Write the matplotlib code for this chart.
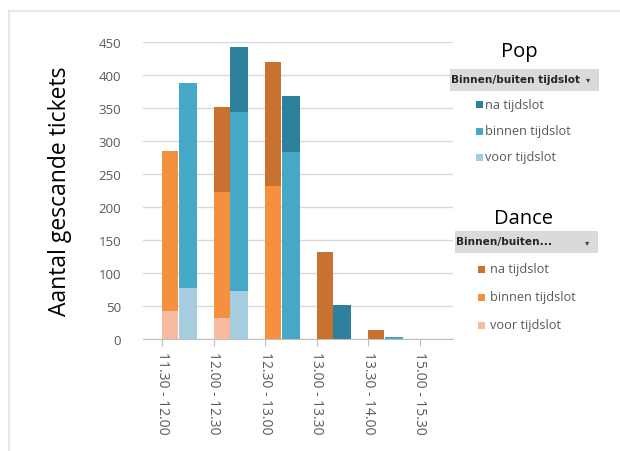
import matplotlib.pyplot as plt
from matplotlib.patches import Rectangle
from matplotlib.lines import Line2D
import numpy as np

plt.rcParams['font.family'] = ['Open Sans', 'DejaVu Sans']

# data
slots = ['11.30 - 12.00', '12.00 - 12.30', '12.30 - 13.00', '13.00 - 13.30', '13.30 - 14.00', '15.00 - 15.30']
dance_voor = [43, 32, 0, 0, 0, 0]
dance_binnen = [242, 191, 232, 0, 0, 0]
dance_na = [0, 129, 189, 132, 14, 0]
pop_voor = [78, 72, 0, 0, 0, 0]
pop_binnen = [310, 272, 283, 0, 3, 0]
pop_na = [0, 99, 86, 51, 0, 0]
legend_labels = ['na tijdslot', 'binnen tijdslot', 'voor tijdslot']

dance_cols = ['#F9BBA0', '#F5913E', '#C9722F']  # voor, binnen, na
pop_cols = ['#A6CDDF', '#45A8C6', '#2D819C']

fig = plt.figure(figsize=(6.2, 4.52), dpi=100)
ax = fig.add_axes([0.231, 0.248, 0.50, 0.656])

x = np.arange(len(slots))
d_bottom = np.zeros(len(slots))
for vals, c in zip([dance_voor, dance_binnen, dance_na], dance_cols):
    ax.bar(x, vals, width=0.31, bottom=d_bottom, align='edge', color=c, zorder=3)
    d_bottom += np.array(vals)
p_bottom = np.zeros(len(slots))
for vals, c in zip([pop_voor, pop_binnen, pop_na], pop_cols):
    ax.bar(x + 0.32, vals, width=0.35, bottom=p_bottom, align='edge', color=c, zorder=3)
    p_bottom += np.array(vals)

ax.set_xlim(-0.37, 5.65)
ax.set_ylim(0, 450)
ax.set_yticks(np.arange(0, 451, 50))
ax.set_xticks(x)
ax.set_xticklabels(slots, rotation=270, fontsize=10, color='#595959')
ax.tick_params(axis='y', length=0, labelsize=9.5, labelcolor='#595959', pad=16)
ax.tick_params(axis='x', length=5, color='#BFBFBF', pad=4)
ax.grid(axis='y', color='#D9D9D9', linewidth=1, zorder=0)
for s in ['top', 'right', 'left']:
    ax.spines[s].set_visible(False)
ax.spines['bottom'].set_color('#BFBFBF')
ax.set_ylabel('Aantal gescande tickets', fontsize=16.5, labelpad=19)

# outer frame (top and left only)
fig.add_artist(Line2D([9 / 620, 1], [1 - 12 / 452, 1 - 12 / 452], color='#E3E3E3', lw=1.2))
fig.add_artist(Line2D([9 / 620, 9 / 620], [0, 1 - 12 / 452], color='#E3E3E3', lw=1.2))


def fx(px):
    return px / 620


def fy(py):
    return 1 - py / 452


def legend_block(title, title_x, title_y, box_x0, box_x1, box_y, box_text, cols, ys, sq_x, txt_x):
    fig.text(fx(title_x), fy(title_y), title, fontsize=14.5, ha='center', va='center')
    fig.add_artist(Rectangle((fx(box_x0), fy(box_y + 10.5)), fx(box_x1 - box_x0), 21 / 452,
                             facecolor='#DADADA', edgecolor='#D0D0D0', lw=0.5))
    fig.text(fx(box_x0 + 1), fy(box_y), box_text, fontsize=7.6, color='#262626', fontweight='bold',
             ha='left', va='center', family=['DejaVu Sans'])
    fig.text(fx(box_x1 - 10), fy(box_y), '\u25BE', fontsize=6, color='#404040', ha='center', va='center',
             family=['DejaVu Sans'])
    for lab, c, yy in zip(legend_labels, cols[::-1], ys):
        fig.add_artist(Rectangle((fx(sq_x), fy(yy + 3.5)), 7 / 620, 7 / 452, facecolor=c, edgecolor='none'))
        fig.text(fx(txt_x), fy(yy), lab, fontsize=9.2, color='#595959', ha='left', va='center')


legend_block('Pop', 519, 52, 450, 598, 80, 'Binnen/buiten tijdslot', pop_cols, [105, 132, 158], 476, 485)
legend_block('Dance', 524, 219, 455, 597, 242.5, 'Binnen/buiten...', dance_cols, [270, 298, 326], 478, 490)

fig.savefig('out.png', dpi=100)
